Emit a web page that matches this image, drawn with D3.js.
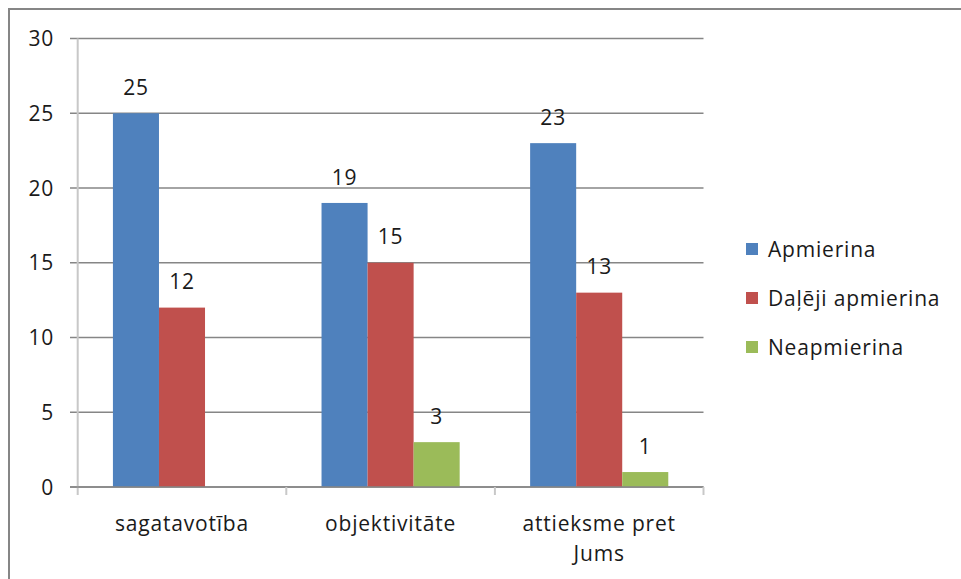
<!DOCTYPE html>
<html><head><meta charset="utf-8">
<script src="https://cdn.jsdelivr.net/npm/d3@7"></script>
<style>body{margin:0;background:#fff}svg{display:block}text{font-family:"Open Sans","Noto Sans",sans-serif;fill:#1a1a1a;letter-spacing:0.8px}</style>
</head><body>
<script>
const categories = ["sagatavotība", "objektivitāte", "attieksme pret Jums"];
const seriesNames = ["Apmierina", "Daļēji apmierina", "Neapmierina"];
const apmierina = [25, 19, 23];
const dalejiApmierina = [12, 15, 13];
const neapmierina = [null, 3, 1];
const yTicks = [0, 5, 10, 15, 20, 25, 30];
const colors = ["#4F81BD", "#C0504D", "#9BBB59"];

(function(){
const seriesValues = [apmierina, dalejiApmierina, neapmierina];
const W = 961, H = 579;
const FS = "21px";
const svg = d3.select("body").append("svg").attr("width", W).attr("height", H);
svg.append("rect").attr("x", 9).attr("y", 9).attr("width", W + 20).attr("height", H + 20)
  .attr("fill", "#fff").attr("stroke", "#868686").attr("stroke-width", 2);

const pLeft = 77.7, pRight = 703.5, pTop = 38.5, pBottom = 487;
const y = d3.scaleLinear().domain([0, 30]).range([pBottom, pTop]);
const x0 = d3.scaleBand().domain(categories).range([pLeft, pRight]).paddingInner(0).paddingOuter(0);
const x1 = d3.scaleBand().domain(seriesNames).range([0, x0.bandwidth()]).paddingOuter(0.765).paddingInner(0);

svg.append("g").selectAll("line").data(yTicks).join("line")
  .attr("x1", 70).attr("x2", pRight).attr("y1", d => y(d)).attr("y2", d => y(d))
  .attr("stroke", "#868686").attr("stroke-width", 1.3);

svg.append("g").selectAll("text").data(yTicks).join("text")
  .attr("x", 54).attr("y", d => y(d)).attr("dy", "0.36em").attr("text-anchor", "end")
  .style("font-size", FS).text(d => d);

svg.append("line").attr("x1", pLeft).attr("x2", pLeft).attr("y1", pTop).attr("y2", pBottom + 8)
  .attr("stroke", "#c8c8c8").attr("stroke-width", 2);

const data = [];
categories.forEach((c, i) => seriesNames.forEach((s, j) => {
  const v = seriesValues[j][i];
  if (v != null) data.push({c, s, v, j});
}));
svg.append("g").selectAll("rect").data(data).join("rect")
  .attr("x", d => x0(d.c) + x1(d.s)).attr("width", x1.bandwidth())
  .attr("y", d => y(d.v)).attr("height", d => y(0) - y(d.v))
  .attr("fill", d => colors[d.j]);

svg.append("line").attr("x1", 70).attr("x2", pRight).attr("y1", pBottom).attr("y2", pBottom)
  .attr("stroke", "#868686").attr("stroke-width", 1.5);
svg.append("g").selectAll("line").data(categories.slice(1).concat(["end"])).join("line")
  .attr("x1", d => d === "end" ? pRight : x0(d)).attr("x2", d => d === "end" ? pRight : x0(d))
  .attr("y1", pBottom).attr("y2", pBottom + 8).attr("stroke", "#c8c8c8").attr("stroke-width", 2);

svg.append("g").selectAll("text").data(data).join("text")
  .attr("x", d => x0(d.c) + x1(d.s) + x1.bandwidth() / 2).attr("y", d => y(d.v) - 26)
  .attr("text-anchor", "middle").attr("dy", "0.36em").style("font-size", FS).text(d => d.v);

const catG = svg.append("g");
categories.forEach(c => {
  const cx = x0(c) + x0.bandwidth() / 2;
  const lines = c === "attieksme pret Jums" ? ["attieksme pret", "Jums"] : [c];
  lines.forEach((t, k) => catG.append("text").attr("x", cx).attr("y", 523 + k * 30)
    .attr("dy", "0.36em").attr("text-anchor", "middle").style("font-size", FS).text(t));
});

const lg = svg.append("g").selectAll("g").data(seriesNames).join("g")
  .attr("transform", (d, i) => `translate(746,${249 + i * 49})`);
lg.append("rect").attr("x", 0).attr("y", -6).attr("width", 12).attr("height", 12).attr("fill", (d, i) => colors[i]);
lg.append("text").attr("x", 22).attr("y", 0).attr("dy", "0.36em").style("font-size", FS).text(d => d);
})();
</script>
</body></html>
